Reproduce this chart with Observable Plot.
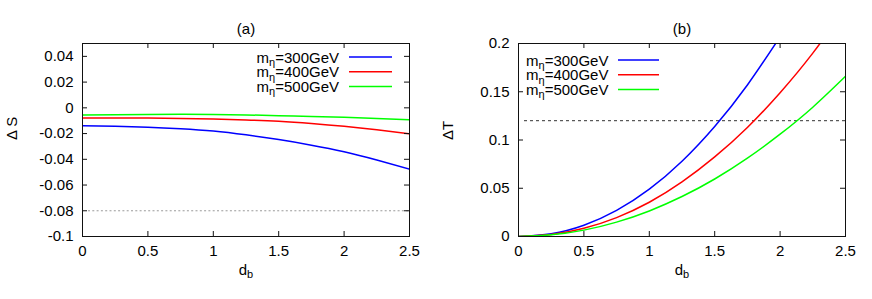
<!DOCTYPE html>
<html>
<head>
<meta charset="utf-8">
<script src="https://cdn.jsdelivr.net/npm/d3@7"></script>
<script src="https://cdn.jsdelivr.net/npm/@observablehq/plot@0.6"></script>
<style>
  html, body { margin: 0; padding: 0; background: #fff; }
  #wrap { display: flex; width: 872px; height: 299px; }
</style>
</head>
<body>
<div id="wrap"></div>
<script>
// ---------- data ----------
const masses = ["300", "400", "500"];
const legendLabels = ["m_η=300GeV", "m_η=400GeV", "m_η=500GeV"];
const dGrid = [0, 0.25, 0.5, 0.75, 1.0, 1.25, 1.5, 1.75, 2.0, 2.25, 2.5];

// panel (a): Delta S
const dS300 = [-0.0140, -0.0143, -0.0150, -0.0162, -0.0180, -0.0210, -0.0247, -0.0290, -0.0341, -0.0405, -0.0476];
const dS400 = [-0.0079, -0.0079, -0.0079, -0.0082, -0.0087, -0.0094, -0.0104, -0.0121, -0.0143, -0.0170, -0.0201];
const dS500 = [-0.0056, -0.0053, -0.0051, -0.0050, -0.0051, -0.0055, -0.0061, -0.0067, -0.0074, -0.0083, -0.0092];
const sBound = [-0.08];

// panel (b): Delta T
const dT300 = [0, 0.0028, 0.0116, 0.0270, 0.049, 0.078, 0.114, 0.157, 0.207];
const dT400 = [0, 0.0020, 0.0085, 0.0196, 0.0355, 0.0566, 0.0825, 0.113, 0.149, 0.190, 0.237];
const dT500 = [0, 0.0017, 0.0066, 0.0149, 0.0265, 0.0414, 0.0596, 0.0812, 0.106, 0.134, 0.166];
const tBound = [0.12];

const xTicks = [0, 0.5, 1, 1.5, 2, 2.5];
const yTicksS = [-0.1, -0.08, -0.06, -0.04, -0.02, 0, 0.02, 0.04];
const yTicksT = [0, 0.05, 0.1, 0.15, 0.2];

// ---------- styling ----------
const colors = ["#0000ff", "#ff0000", "#00ff00"];
const FONT = "'Liberation Sans', Arial, Helvetica, sans-serif";
const FS = 15;
const W = 436, H = 299;
const M = {top: 43, right: 27, bottom: 63, left: 82};
const FW = W - M.left - M.right, FH = H - M.top - M.bottom;

function rows(series) {
  const out = [];
  series.forEach((vals, i) => vals.forEach((v, j) => out.push({d: dGrid[j], v, mass: masses[i]})));
  return out;
}
const fmt = d => String(+d.toFixed(2));

function panel({title, ylabel, ydomain, yticks, series, bound, boundStroke, boundDash, legend}) {
  const svg = Plot.plot({
    width: W, height: H,
    marginTop: M.top, marginRight: M.right, marginBottom: M.bottom, marginLeft: M.left,
    style: {fontFamily: FONT, fontSize: FS + "px", background: "#fff", color: "#000", overflow: "visible"},
    x: {domain: [0, 2.5], axis: null},
    y: {domain: ydomain, axis: null},
    color: {domain: masses, range: colors},
    marks: [
      Plot.ruleY(bound, {y: d => d, stroke: boundStroke, strokeWidth: 1, strokeDasharray: boundDash, insetLeft: 6}),
      Plot.line(rows(series), {x: "d", y: "v", z: "mass", stroke: "mass", strokeWidth: 1.5, curve: "natural", clip: true}),
      Plot.frame({stroke: "#111", strokeWidth: 1}),
      // inward ticks on all four sides (gnuplot style)
      Plot.tickY(yticks, {y: d => d, insetRight: FW - 5, stroke: "#111"}),
      Plot.tickY(yticks, {y: d => d, insetLeft: FW - 5, stroke: "#111"}),
      Plot.tickX(xTicks, {x: d => d, insetTop: FH - 5, stroke: "#111"}),
      Plot.tickX(xTicks, {x: d => d, insetBottom: FH - 5, stroke: "#111"}),
      Plot.axisY(yticks, {tickSize: 0, tickPadding: 9, tickFormat: fmt, fontSize: FS, label: null}),
      Plot.axisX(xTicks, {tickSize: 0, tickPadding: 9, tickFormat: fmt, fontSize: FS, label: null}),
      Plot.text([title], {frameAnchor: "top", dy: -20, fontSize: FS}),
      Plot.text([ylabel], {frameAnchor: "left", dx: -70, rotate: -90, fontSize: FS}),
      Plot.text(["d_b"], {frameAnchor: "bottom", dy: 38, fontSize: FS})
    ]
  });

  const s = d3.select(svg);
  // subscript rendering
  function rich(sel, str) {
    const k = str.indexOf("_");
    const main = str.slice(0, k), sub = str[k + 1], rest = str.slice(k + 2);
    sel.text(null);
    sel.append("tspan").text(main);
    sel.append("tspan").attr("dy", 3.5).attr("font-size", 11).text(sub);
    if (rest) sel.append("tspan").attr("dy", -3.5).text(rest);
  }
  s.selectAll("text").filter(function () { return this.textContent === "d_b"; })
    .each(function () { rich(d3.select(this), "d_b"); });

  // legend
  const g = s.append("g").attr("font-family", FONT).attr("font-size", FS);
  legendLabels.forEach((lab, i) => {
    const y = M.top + legend.y0 + legend.step * i;
    const t = g.append("text").attr("y", y + 5.5).attr("fill", "#000");
    if (legend.align === "right") t.attr("x", M.left + FW - legend.textGap).attr("text-anchor", "end");
    else t.attr("x", M.left + legend.textGap).attr("text-anchor", "start");
    rich(t, lab);
    g.append("line")
      .attr("x1", legend.lineX1).attr("x2", legend.lineX2)
      .attr("y1", y).attr("y2", y)
      .attr("stroke", colors[i]).attr("stroke-width", 1.5);
  });
  return svg;
}

const wrap = document.getElementById("wrap");
wrap.appendChild(panel({
  title: "(a)", ylabel: "Δ S", ydomain: [-0.1, 0.05], yticks: yTicksS,
  series: [dS300, dS400, dS500], bound: sBound, boundStroke: "#999", boundDash: "2,2.3",
  legend: {align: "right", textGap: 70, lineX1: 349, lineX2: 392, y0: 14, step: 14.7}
}));
wrap.appendChild(panel({
  title: "(b)", ylabel: "ΔT", ydomain: [0, 0.2], yticks: yTicksT,
  series: [dT300, dT400, dT500], bound: tBound, boundStroke: "#333", boundDash: "3,3",
  legend: {align: "left", textGap: 8, lineX1: 182, lineX2: 223, y0: 17, step: 14.7}
}));
</script>
</body>
</html>
